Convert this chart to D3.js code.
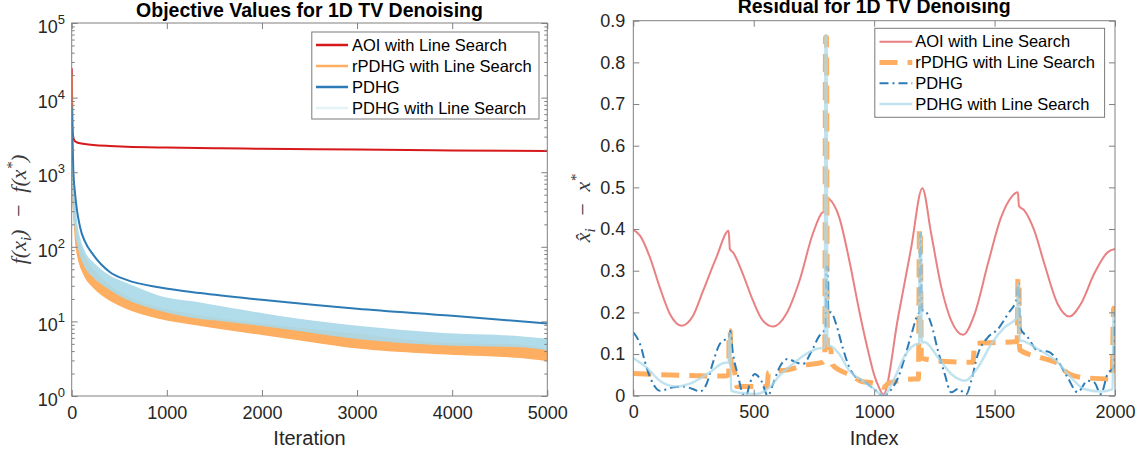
<!DOCTYPE html>
<meta charset="utf-8">
<title>1D TV Denoising</title>
<style>
body { margin: 0; background: #fff; }
text { font-family: "Liberation Sans", Arial, Helvetica, sans-serif; fill: #262626; }
.tick line { stroke: #808080; }
.tick text { font-size: 18px; fill: #262626; }
.domain { display: none; }
.frame { fill: none; stroke: #808080; stroke-width: 1; }
.math { font-family: "Liberation Serif", "Times New Roman", serif; font-style: italic; font-size: 22px; fill: #3a3a3a; }
.title { font-weight: bold; font-size: 19.5px; fill: #000; }
.xlabel { font-size: 20px; }
.legend text { font-size: 16.5px; fill: #000; }
</style>
<body>
<script src="https://d3js.org/d3.v7.min.js"></script>
<script>

// ---- left panel: objective gap vs iteration ----
var iterTicks = [0, 1000, 2000, 3000, 4000, 5000];
var logTicks = [1, 10, 100, 1000, 10000, 100000];

var aoiIter = [0, 8, 15, 30, 52, 120, 227, 400, 578, 1000, 1559, 2000, 3000, 4000, 5000];
var aoiObj  = [24700, 4000, 2950, 2650, 2520, 2400, 2320, 2250, 2200, 2140, 2090, 2060, 2010, 1960, 1930];

var pdhgIter = [0, 8, 17, 35, 87, 140, 227, 400, 578, 930, 1350, 2000, 3000, 4000, 5000];
var pdhgObj  = [7500, 3000, 1070, 525, 186, 117, 78, 46, 36, 28.5, 24, 19.5, 14.8, 11.9, 9.4];

// noisy runs: lower / upper envelope of the oscillation
var rpdhgIter = [0, 4, 17, 35, 52, 140, 227, 400, 578, 928, 1351, 1559, 2200, 3031, 3872, 4713, 5000];
var rpdhgLow  = [20000, 600, 345, 152, 91, 40, 29, 19.4, 15, 11, 8.9, 8.1, 6.2, 4.4, 3.7, 3.3, 3.0];
var rpdhgHigh = [20000, 900, 420, 230, 153, 70, 49, 30, 21.4, 15, 11.8, 10.8, 8.6, 6.6, 5.1, 4.8, 4.2];

var pdhgLsIter = [0, 8, 17, 35, 52, 140, 227, 400, 578, 928, 1351, 1559, 2200, 3031, 3872, 4713, 5000];
var pdhgLsLow  = [7500, 1000, 400, 200, 130, 55, 40, 27, 20, 14.2, 11, 10.4, 8.2, 5.9, 4.9, 4.6, 4.2];
var pdhgLsHigh = [7500, 2000, 600, 345, 200, 82, 60, 40, 32, 21.4, 17.5, 15.7, 11.5, 8.5, 6.9, 6.2, 5.75];

// ---- right panel: residual vs index ----
var idxTicks = [0, 500, 1000, 1500, 2000];
var resTicks = [0, 0.1, 0.2, 0.3, 0.4, 0.5, 0.6, 0.7, 0.8, 0.9];

var aoiIdx = [0, 28, 69, 110, 152, 200, 248, 290, 345, 396, 401, 414, 455, 497, 538, 580, 635, 690, 745, 786, 798, 802, 814, 855, 897, 938, 980, 1000, 1020, 1038, 1100, 1154, 1200, 1237, 1279, 1320, 1369, 1417, 1472, 1527, 1569, 1597, 1601, 1624, 1665, 1707, 1762, 1810, 1858, 1913, 1969, 2000];
var aoiRes = [0.398, 0.384, 0.332, 0.26, 0.196, 0.168, 0.192, 0.252, 0.332, 0.396, 0.352, 0.344, 0.292, 0.228, 0.18, 0.166, 0.196, 0.276, 0.388, 0.44, 0.442, 0.476, 0.472, 0.428, 0.324, 0.204, 0.095, 0.05, 0.02, 0.003, 0.19, 0.356, 0.498, 0.388, 0.26, 0.18, 0.146, 0.196, 0.316, 0.428, 0.476, 0.488, 0.456, 0.444, 0.396, 0.316, 0.22, 0.19, 0.22, 0.292, 0.344, 0.352];

var rpdhgIdx = [0, 380, 396, 398, 402, 406, 420, 430, 555, 562, 640, 720, 785, 795, 798, 802, 806, 820, 826, 860, 900, 950, 1000, 1040, 1060, 1170, 1184, 1188, 1192, 1196, 1300, 1410, 1418, 1594, 1597, 1601, 1604, 1700, 1770, 1790, 1850, 1988, 1994, 2000];
var rpdhgRes = [0.053, 0.047, 0.05, 0.156, 0.156, 0.08, 0.06, 0.022, 0.022, 0.056, 0.062, 0.074, 0.08, 0.085, 0.86, 0.86, 0.12, 0.11, 0.075, 0.06, 0.05, 0.034, 0.03, 0.02, 0.03, 0.04, 0.04, 0.40, 0.40, 0.09, 0.082, 0.08, 0.125, 0.13, 0.28, 0.28, 0.11, 0.09, 0.075, 0.06, 0.045, 0.04, 0.21, 0.21];

var pdhgIdx = [0, 28, 55, 83, 110, 166, 207, 248, 276, 304, 331, 359, 386, 398, 402, 414, 435, 455, 469, 483, 504, 531, 559, 580, 607, 641, 676, 704, 738, 773, 793, 798, 802, 806, 810, 821, 842, 869, 897, 924, 952, 1000, 1038, 1072, 1100, 1127, 1155, 1182, 1188, 1191, 1194, 1197, 1210, 1237, 1265, 1293, 1320, 1348, 1383, 1403, 1431, 1472, 1514, 1555, 1594, 1598, 1601, 1605, 1638, 1679, 1721, 1762, 1803, 1845, 1886, 1914, 1941, 1969, 1994, 1998, 2000];
var pdhgRes = [0.152, 0.124, 0.068, 0.028, 0.012, 0.02, 0.022, 0.016, 0.01, 0.028, 0.08, 0.124, 0.136, 0.14, 0.155, 0.1, 0.048, 0.004, 0, 0.028, 0.052, 0.036, 0, 0.028, 0.068, 0.088, 0.08, 0.076, 0.104, 0.144, 0.156, 0.16, 0.31, 0.31, 0.2, 0.2, 0.172, 0.116, 0.068, 0.044, 0.036, 0.016, 0, 0.016, 0.044, 0.092, 0.148, 0.196, 0.2, 0.39, 0.39, 0.205, 0.204, 0.172, 0.108, 0.052, 0.008, 0.016, 0.004, 0.036, 0.1, 0.14, 0.16, 0.196, 0.236, 0.27, 0.27, 0.164, 0.14, 0.108, 0.106, 0.084, 0.044, 0.008, 0.036, 0.032, 0.004, 0.052, 0.068, 0.2, 0.2];

var pdhgLsIdx = [0, 55, 110, 179, 248, 317, 372, 396, 399, 402, 406, 441, 510, 566, 607, 662, 717, 759, 795, 798, 802, 806, 814, 855, 897, 952, 1000, 1038, 1086, 1127, 1182, 1187, 1190, 1194, 1198, 1210, 1265, 1320, 1376, 1431, 1486, 1541, 1594, 1597, 1601, 1604, 1610, 1679, 1762, 1817, 1872, 1941, 1990, 1994, 2000];
var pdhgLsRes = [0.09, 0.068, 0.036, 0.022, 0.032, 0.056, 0.078, 0.08, 0.15, 0.15, 0.012, 0.007, 0.004, 0.02, 0.048, 0.076, 0.1, 0.112, 0.116, 0.865, 0.865, 0.12, 0.12, 0.1, 0.06, 0.036, 0.016, 0.0, 0.044, 0.096, 0.124, 0.124, 0.39, 0.39, 0.128, 0.128, 0.092, 0.052, 0.036, 0.068, 0.124, 0.164, 0.188, 0.27, 0.27, 0.132, 0.132, 0.112, 0.08, 0.044, 0.016, 0.01, 0.016, 0.2, 0.2];

var legendNames = ["AOI with Line Search", "rPDHG with Line Search", "PDHG", "PDHG with Line Search"];

var red = "#d7191c", orange = "#fdae61", blue = "#2c7bb6", lightBlue = "#abd9e9";

var svg = d3.select("body").append("svg")
    .attr("width", 1141)
    .attr("height", 454);

function zip(xs, ys) { return xs.map(function(x, i) { return [x, ys[i]]; }); }

// ===================== left panel =====================
var xL = d3.scaleLinear().domain([0, 5000]).range([71.7, 547.3]);
var yL = d3.scaleLog().domain([1, 1e5]).range([396, 23]);

svg.append("clipPath").attr("id", "clipL").append("rect")
    .attr("x", xL(0)).attr("y", yL(1e5))
    .attr("width", xL(5000) - xL(0)).attr("height", yL(1) - yL(1e5));

var plotL = svg.append("g").attr("clip-path", "url(#clipL)");

var lineL = d3.line()
    .x(function(d) { return xL(d[0]); })
    .y(function(d) { return yL(d[1]); })
    .curve(d3.curveMonotoneX);

var bandL = d3.area()
    .x(function(d) { return xL(d[0]); })
    .y0(function(d) { return yL(d[1]); })
    .y1(function(d) { return yL(d[2]); })
    .curve(d3.curveMonotoneX);

plotL.append("path")
    .attr("d", lineL(zip(aoiIter, aoiObj)))
    .attr("fill", "none").attr("stroke", red).attr("stroke-width", 2);

plotL.append("path")
    .attr("d", bandL(rpdhgIter.map(function(x, i) { return [x, rpdhgLow[i], rpdhgHigh[i]]; })))
    .attr("fill", orange).attr("stroke", orange).attr("stroke-width", 1.5);

plotL.append("path")
    .attr("d", bandL(pdhgLsIter.map(function(x, i) { return [x, pdhgLsLow[i], pdhgLsHigh[i]]; })))
    .attr("fill", lightBlue).attr("stroke", lightBlue).attr("stroke-width", 1.5)
    .attr("opacity", 0.92);

plotL.append("path")
    .attr("d", lineL(zip(pdhgIter, pdhgObj)))
    .attr("fill", "none").attr("stroke", blue).attr("stroke-width", 2);

// axes (ticks point inward)
var minorTicks = [];
for (var e = 0; e < 5; e++) for (var m = 2; m < 10; m++) minorTicks.push(m * Math.pow(10, e));

svg.append("g").attr("transform", "translate(0,396)")
    .call(d3.axisBottom(xL).tickValues(iterTicks).tickSize(-6).tickPadding(10).tickFormat(d3.format("d")));
svg.append("g").attr("transform", "translate(0,23)")
    .call(d3.axisTop(xL).tickValues(iterTicks).tickSize(-6).tickFormat(""));
svg.append("g").attr("transform", "translate(71.7,0)")
    .call(d3.axisLeft(yL).tickValues(logTicks).tickSize(-6).tickFormat(""));
svg.append("g").attr("transform", "translate(71.7,0)")
    .call(d3.axisLeft(yL).tickValues(minorTicks).tickSize(-3).tickFormat(""));
svg.append("g").attr("transform", "translate(547.3,0)")
    .call(d3.axisRight(yL).tickValues(logTicks).tickSize(-6).tickFormat(""));
svg.append("g").attr("transform", "translate(547.3,0)")
    .call(d3.axisRight(yL).tickValues(minorTicks).tickSize(-3).tickFormat(""));

// 10^k labels
var expLab = svg.append("g").selectAll("text").data(logTicks).enter().append("text")
    .attr("x", 65)
    .attr("y", function(d) { return yL(d) + 10; })
    .attr("text-anchor", "end")
    .style("font-size", "18px");
expLab.append("tspan").text("10");
expLab.append("tspan")
    .attr("dy", -9)
    .style("font-size", "13px")
    .text(function(d) { return Math.round(Math.log10(d)); });

svg.append("rect").attr("class", "frame")
    .attr("x", xL(0)).attr("y", yL(1e5))
    .attr("width", xL(5000) - xL(0)).attr("height", yL(1) - yL(1e5));

svg.append("text").attr("class", "title")
    .attr("x", (xL(0) + xL(5000)) / 2).attr("y", 17)
    .attr("text-anchor", "middle")
    .text("Objective Values for 1D TV Denoising");

svg.append("text").attr("class", "xlabel")
    .attr("x", (xL(0) + xL(5000)) / 2).attr("y", 445)
    .attr("text-anchor", "middle")
    .text("Iteration");

var ylabL = svg.append("text").attr("class", "math")
    .attr("transform", "translate(26," + (yL(1) + yL(1e5)) / 2 + ") rotate(-90)")
    .attr("text-anchor", "middle");
ylabL.append("tspan").text("f(x");
ylabL.append("tspan").attr("dy", 5).style("font-size", "15px").text("i");
ylabL.append("tspan").attr("dy", -5).text(")\u2002\u2212\u2002f(x");
ylabL.append("tspan").attr("dy", -9).style("font-size", "15px").text("*");
ylabL.append("tspan").attr("dy", 9).text(")");

// legend
var legL = svg.append("g").attr("class", "legend");
legL.append("rect")
    .attr("x", 311.8).attr("y", 32).attr("width", 227.2).attr("height", 87)
    .attr("fill", "#fff").attr("stroke", "#7a7a7a");
var legLStyles = [
    {c: red, o: 1}, {c: orange, o: 1}, {c: blue, o: 1}, {c: lightBlue, o: 0.3}
];
legendNames.forEach(function(name, i) {
    var y = 45 + i * 21;
    legL.append("line").attr("x1", 316).attr("x2", 348).attr("y1", y).attr("y2", y)
        .attr("stroke", legLStyles[i].c).attr("stroke-width", 2.5).attr("opacity", legLStyles[i].o);
    legL.append("text").attr("x", 352).attr("y", y).attr("dy", "0.35em").text(name);
});

// ===================== right panel =====================
var xR = d3.scaleLinear().domain([0, 2000]).range([633.3, 1115]);
var yR = d3.scaleLinear().domain([0, 0.9]).range([395.7, 20.7]);

svg.append("clipPath").attr("id", "clipR").append("rect")
    .attr("x", xR(0)).attr("y", yR(0.9))
    .attr("width", xR(2000) - xR(0)).attr("height", yR(0) - yR(0.9));

var plotR = svg.append("g").attr("clip-path", "url(#clipR)");

var lineR = d3.line()
    .x(function(d) { return xR(d[0]); })
    .y(function(d) { return yR(d[1]); })
    .curve(d3.curveMonotoneX);

var styleR = [
    {c: red, w: 2, o: 0.55, dash: null},
    {c: orange, w: 5, o: 1, dash: "18,10"},
    {c: blue, w: 2, o: 1, dash: "9,4,2,4"},
    {c: lightBlue, w: 2.5, o: 0.75, dash: null}
];
var seriesR = [zip(aoiIdx, aoiRes), zip(rpdhgIdx, rpdhgRes), zip(pdhgIdx, pdhgRes), zip(pdhgLsIdx, pdhgLsRes)];

seriesR.forEach(function(s, i) {
    plotR.append("path")
        .attr("d", lineR(s))
        .attr("fill", "none")
        .attr("stroke", styleR[i].c)
        .attr("stroke-width", styleR[i].w)
        .attr("opacity", styleR[i].o)
        .attr("stroke-dasharray", styleR[i].dash);
});

svg.append("g").attr("transform", "translate(0,395.7)")
    .call(d3.axisBottom(xR).tickValues(idxTicks).tickSize(-6).tickPadding(10).tickFormat(d3.format("d")));
svg.append("g").attr("transform", "translate(0,20.7)")
    .call(d3.axisTop(xR).tickValues(idxTicks).tickSize(-6).tickFormat(""));
svg.append("g").attr("transform", "translate(633.3,0)")
    .call(d3.axisLeft(yR).tickValues(resTicks).tickSize(-6).tickPadding(8)
        .tickFormat(function(d) { return d === 0 ? "0" : d3.format(".1f")(d); }));
svg.append("g").attr("transform", "translate(1115,0)")
    .call(d3.axisRight(yR).tickValues(resTicks).tickSize(-6).tickFormat(""));

svg.append("rect").attr("class", "frame")
    .attr("x", xR(0)).attr("y", yR(0.9))
    .attr("width", xR(2000) - xR(0)).attr("height", yR(0) - yR(0.9));

svg.append("text").attr("class", "title")
    .attr("x", (xR(0) + xR(2000)) / 2).attr("y", 13)
    .attr("text-anchor", "middle")
    .text("Residual for 1D TV Denoising");

svg.append("text").attr("class", "xlabel")
    .attr("x", (xR(0) + xR(2000)) / 2).attr("y", 445)
    .attr("text-anchor", "middle")
    .text("Index");

var ylabR = svg.append("text").attr("class", "math")
    .attr("transform", "translate(590," + (yR(0) + yR(0.9)) / 2 + ") rotate(-90)")
    .attr("text-anchor", "middle");
ylabR.append("tspan").text("x\u0302");
ylabR.append("tspan").attr("dy", 5).style("font-size", "15px").text("i");
ylabR.append("tspan").attr("dy", -5).text("\u2002\u2212\u2002x");
ylabR.append("tspan").attr("dy", -9).style("font-size", "15px").text("*");

var legR = svg.append("g").attr("class", "legend");
legR.append("rect")
    .attr("x", 874.8).attr("y", 28.3).attr("width", 229.8).attr("height", 89)
    .attr("fill", "#fff").attr("stroke", "#7a7a7a");
legendNames.forEach(function(name, i) {
    var y = 41.7 + i * 20.8;
    legR.append("line").attr("x1", 879.5).attr("x2", 912.3).attr("y1", y).attr("y2", y)
        .attr("stroke", styleR[i].c).attr("stroke-width", styleR[i].w)
        .attr("opacity", styleR[i].o).attr("stroke-dasharray", styleR[i].dash);
    legR.append("text").attr("x", 915.2).attr("y", y).attr("dy", "0.35em").text(name);
});

</script>
</body>
